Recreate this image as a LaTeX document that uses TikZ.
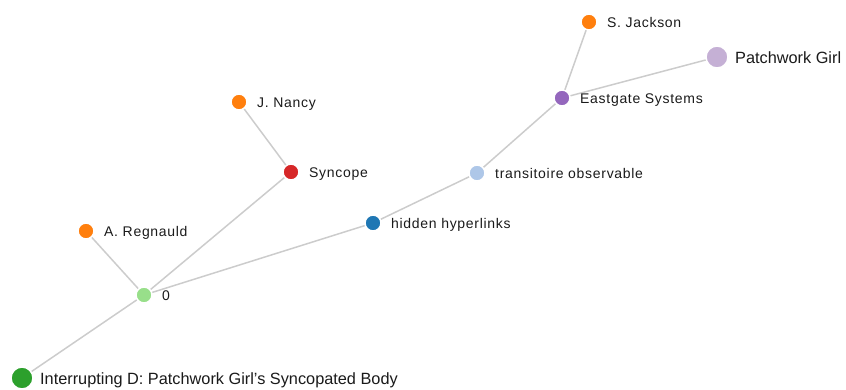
\documentclass[tikz,border=0pt]{standalone}
\usepackage{fontspec}
\setmainfont{Liberation Sans}
\newfontfamily\lblfont[LetterSpace=5]{Liberation Sans}
\definecolor{cOrange}{HTML}{FF7F0E}
\definecolor{cPurple}{HTML}{9467BD}
\definecolor{cLilac}{HTML}{C5B0D5}
\definecolor{cRed}{HTML}{D62728}
\definecolor{cSky}{HTML}{AEC7E8}
\definecolor{cBlue}{HTML}{1F77B4}
\definecolor{cMint}{HTML}{98DF8A}
\definecolor{cGreen}{HTML}{2CA02C}
\definecolor{cLink}{HTML}{CCCCCC}
\definecolor{cText}{HTML}{1A1A1A}
\tikzset{
  dot/.style={circle, minimum size=16pt, inner sep=0pt, draw=white, line width=1.5pt, fill=#1},
  bigdot/.style={circle, minimum size=22pt, inner sep=0pt, draw=white, line width=1.5pt, fill=#1},
  lbl/.style={anchor=base west, inner sep=0pt, text=cText, font=\lblfont\fontsize{14}{16}\selectfont},
  biglbl/.style={anchor=base west, inner sep=0pt, text=cText, font=\fontsize{16.3}{18}\selectfont},
  link/.style={draw=cLink, line width=1.5pt}
}
\begin{document}
\begin{tikzpicture}[x=1pt, y=-1pt]
\useasboundingbox (0,0) rectangle (846,389);
% nodes
\node[dot=cOrange] (sj) at (589,22) {};
\node[bigdot=cLilac] (pg) at (717,57) {};
\node[dot=cPurple] (eg) at (562,98) {};
\node[dot=cOrange] (jn) at (239,102) {};
\node[dot=cRed] (sy) at (291,172) {};
\node[dot=cSky] (to) at (477,173) {};
\node[dot=cBlue] (hh) at (373,223) {};
\node[dot=cOrange] (ar) at (86,231) {};
\node[dot=cMint] (z) at (144,295) {};
\node[bigdot=cGreen] (id) at (22,378) {};
% links
\draw[link] (sj) -- (eg);
\draw[link] (pg) -- (eg);
\draw[link] (eg) -- (to);
\draw[link] (to) -- (hh);
\draw[link] (hh) -- (z);
\draw[link] (sy) -- (z);
\draw[link] (jn) -- (sy);
\draw[link] (ar) -- (z);
\draw[link] (z) -- (id);
% labels
\node[lbl] (sjl) at (607,27) {S. Jackson};
\node[biglbl] (pgl) at (735,63) {Patchwork Girl};
\node[lbl] (egl) at (580,103) {Eastgate Systems};
\node[lbl] (jnl) at (257,107) {J. Nancy};
\node[lbl] (syl) at (309,177) {Syncope};
\node[lbl] (tol) at (495,178) {transitoire observable};
\node[lbl] (hhl) at (391,228) {hidden hyperlinks};
\node[lbl] (arl) at (104,236) {A. Regnauld};
\node[lbl] (zl) at (162,300) {0};
\node[biglbl] (idl) at (40,384) {Interrupting D: Patchwork Girl's Syncopated Body};
\end{tikzpicture}
\end{document}
